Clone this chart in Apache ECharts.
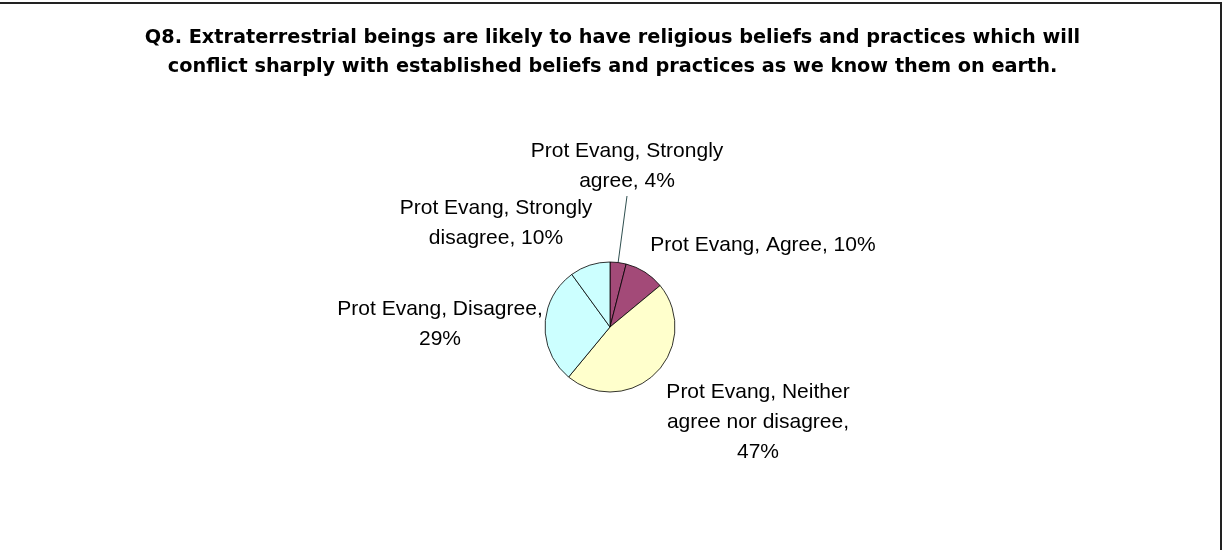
<!DOCTYPE html>
<html>
<head>
<meta charset="utf-8">
<script src="https://cdn.jsdelivr.net/npm/echarts@6/dist/echarts.min.js"></script>
<style>
html,body{margin:0;padding:0;background:#fff;}
#chart{width:1225px;height:550px;}
</style>
</head>
<body>
<div id="chart"></div>
<script>
const titleLines = [
  "Q8. Extraterrestrial beings are likely to have religious beliefs and practices which will",
  "conflict sharply with established beliefs and practices as we know them on earth."
];
const categories = ["Prot Evang, Strongly agree", "Prot Evang, Agree", "Prot Evang, Neither agree nor disagree", "Prot Evang, Disagree", "Prot Evang, Strongly disagree"];
const labelTexts = ["Prot Evang, Strongly\nagree, 4%", "Prot Evang, Agree, 10%", "Prot Evang, Neither\nagree nor disagree,\n47%", "Prot Evang, Disagree,\n29%", "Prot Evang, Strongly\ndisagree, 10%"];
const values = [4, 10, 47, 29, 10];
const colors = ["#A34A78", "#A34A78", "#FFFFCC", "#CCFFFF", "#CCFFFF"];

// label anchor positions (text centres), in pixels
const labelPos = [[627, 166], [763, 245], [758, 422], [440, 324], [496, 223]];

const chart = echarts.init(document.getElementById('chart'), null, {renderer: 'canvas'});
const data = categories.map((c, i) => ({
  name: c,
  value: values[i],
  itemStyle: {color: colors[i]},
  label: {formatter: labelTexts[i]},
  labelLine: i === 0 ? {show: true, length: 59, length2: 0} : {show: false}
}));

chart.setOption({
  animation: false,
  backgroundColor: '#ffffff',
  title: {
    text: titleLines.join('\n'),
    left: 'center',
    top: 18,
    textStyle: {
      fontFamily: 'DejaVu Sans',
      fontWeight: 'bold',
      fontSize: 19.3,
      lineHeight: 29,
      color: '#000'
    }
  },
  graphic: [{
    type: 'rect',
    shape: {x: -2, y: 3, width: 1223, height: 560},
    style: {fill: 'none', stroke: '#222', lineWidth: 2},
    silent: true
  }],
  series: [{
    type: 'pie',
    center: [610, 327],
    radius: 65,
    startAngle: 90,
    clockwise: true,
    avoidLabelOverlap: false,
    emphasis: {disabled: true},
    itemStyle: {borderColor: '#000', borderWidth: 0.8},
    label: {
      show: true,
      position: 'outside',
      fontFamily: 'Liberation Sans, Arial',
      fontSize: 21,
      lineHeight: 30,
      color: '#000',
      align: 'center'
    },
    labelLine: {lineStyle: {color: '#2f4f4f', width: 1}},
    labelLayout: function (params) {
      const p = labelPos[params.dataIndex];
      return {x: p[0], y: p[1], align: 'center', verticalAlign: 'middle'};
    },
    data: data
  }]
});
</script>
</body>
</html>
